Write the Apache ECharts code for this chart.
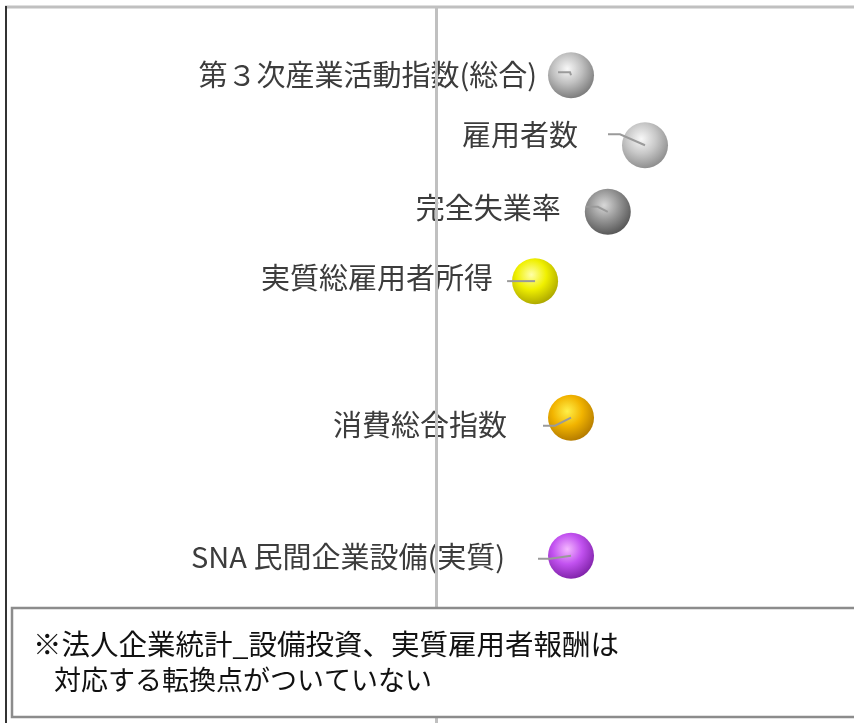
<!DOCTYPE html>
<html>
<head>
<meta charset="utf-8">
<script src="https://cdn.jsdelivr.net/npm/echarts@6.0.0/dist/echarts.min.js"></script>
<style>
html, body { margin: 0; padding: 0; background: #fff; }
#main { width: 854px; height: 723px; }
</style>
</head>
<body>
<div id="main"></div>
<script>
// 指標名（上から順）
var indicators = ['第３次産業活動指数(総合)', '雇用者数', '完全失業率', '実質総雇用者所得', '消費総合指数', 'SNA 民間企業設備(実質)'];
// 横位置（基準線 = 0）
var lagValues = [3.23, 5.0, 4.11, 2.37, 3.23, 3.23];
// 縦位置
var rowValues = [0.94, 1.92, 2.85, 3.82, 5.73, 7.66];
// 注記
var noteLines = ['※法人企業統計_設備投資、実質雇用者報酬は', '対応する転換点がついていない'];

// 玉の色 [ハイライト, 中間, 縁]
var ballColors = [
  ['#f8f8f8', '#c0c0c0', '#6e6e6e'],
  ['#f8f8f8', '#c8c8c8', '#828282'],
  ['#d8d8d8', '#969696', '#4a4a4a'],
  ['#ffffa8', '#f0f000', '#a09a00'],
  ['#fff04a', '#f2b400', '#a87000'],
  ['#f4b8ff', '#c252f0', '#741a9c']
];
// ラベル配置 [ラベル右端, 引出線の長さ, 引出線の上下, ラベルの上下]
var labelPlace = [
  [34, 13, -3, 0],
  [67, 37, -11, -10],
  [47, 22, -5, -4],
  [42, 28, 0, -3],
  [64, 28, 8, 7],
  [66, 33, 3, 1]
];

var chart = echarts.init(document.getElementById('main'));

function renderBall(params, api) {
  var i = params.dataIndex;
  var p = api.coord([api.value(0), api.value(1)]);
  var c = ballColors[i];
  var lp = labelPlace[i];
  var cx = p[0], cy = p[1];
  return {
    type: 'group',
    children: [
      {
        type: 'circle',
        shape: { cx: cx, cy: cy, r: 23 },
        style: {
          fill: new echarts.graphic.RadialGradient(0.42, 0.36, 0.72, [
            { offset: 0, color: c[0] },
            { offset: 0.45, color: c[1] },
            { offset: 1, color: c[2] }
          ])
        }
      },
      {
        type: 'polyline',
        shape: {
          points: [[cx, cy], [cx - lp[1] + 12, cy + lp[2]], [cx - lp[1], cy + lp[2]]]
        },
        style: { stroke: '#9a9a9a', lineWidth: 2, fill: null }
      },
      {
        type: 'text',
        style: {
          text: indicators[i],
          x: cx - lp[0],
          y: cy + lp[3],
          align: 'right',
          verticalAlign: 'middle',
          fill: '#3c3c3c',
          font: '29px "Noto Sans CJK JP"'
        }
      }
    ]
  };
}

var option = {
  animation: false,
  backgroundColor: '#fff',
  grid: { left: 18, right: 0, top: 8, bottom: 0 },
  xAxis: {
    type: 'value',
    min: -10,
    max: 10,
    axisLine: { show: false },
    axisTick: { show: false },
    axisLabel: { show: false },
    splitLine: { show: false }
  },
  yAxis: {
    type: 'value',
    inverse: true,
    min: 0,
    max: 10,
    z: 5,
    axisLine: { show: true, onZero: true, lineStyle: { color: '#c0c0c0', width: 3 } },
    axisTick: { show: false },
    axisLabel: { show: false },
    splitLine: { show: false }
  },
  graphic: [
    {
      type: 'line', z: 20,
      shape: { x1: 5, y1: 7, x2: 854, y2: 7 },
      style: { stroke: '#c0c0c0', lineWidth: 3 }
    },
    {
      type: 'line', z: 20,
      shape: { x1: 6, y1: 6, x2: 6, y2: 723 },
      style: { stroke: '#333', lineWidth: 2 }
    },
    {
      type: 'rect', z: 20,
      shape: { x: 12, y: 608, width: 850, height: 109 },
      style: { fill: '#fff', stroke: '#8c8c8c', lineWidth: 2.5 }
    },
    {
      type: 'text', z: 21, left: 33, top: 630,
      style: { text: noteLines[0], fill: '#111', font: '28.5px "Noto Sans CJK JP"' }
    },
    {
      type: 'text', z: 21, left: 54, top: 666,
      style: { text: noteLines[1], fill: '#111', font: '27px "Noto Sans CJK JP"' }
    }
  ],
  series: [
    {
      type: 'custom',
      z: 2,
      clip: false,
      renderItem: renderBall,
      encode: { x: 0, y: 1 },
      data: lagValues.map(function (v, i) { return [v, rowValues[i]]; })
    }
  ]
};

chart.setOption(option);
</script>
</body>
</html>
